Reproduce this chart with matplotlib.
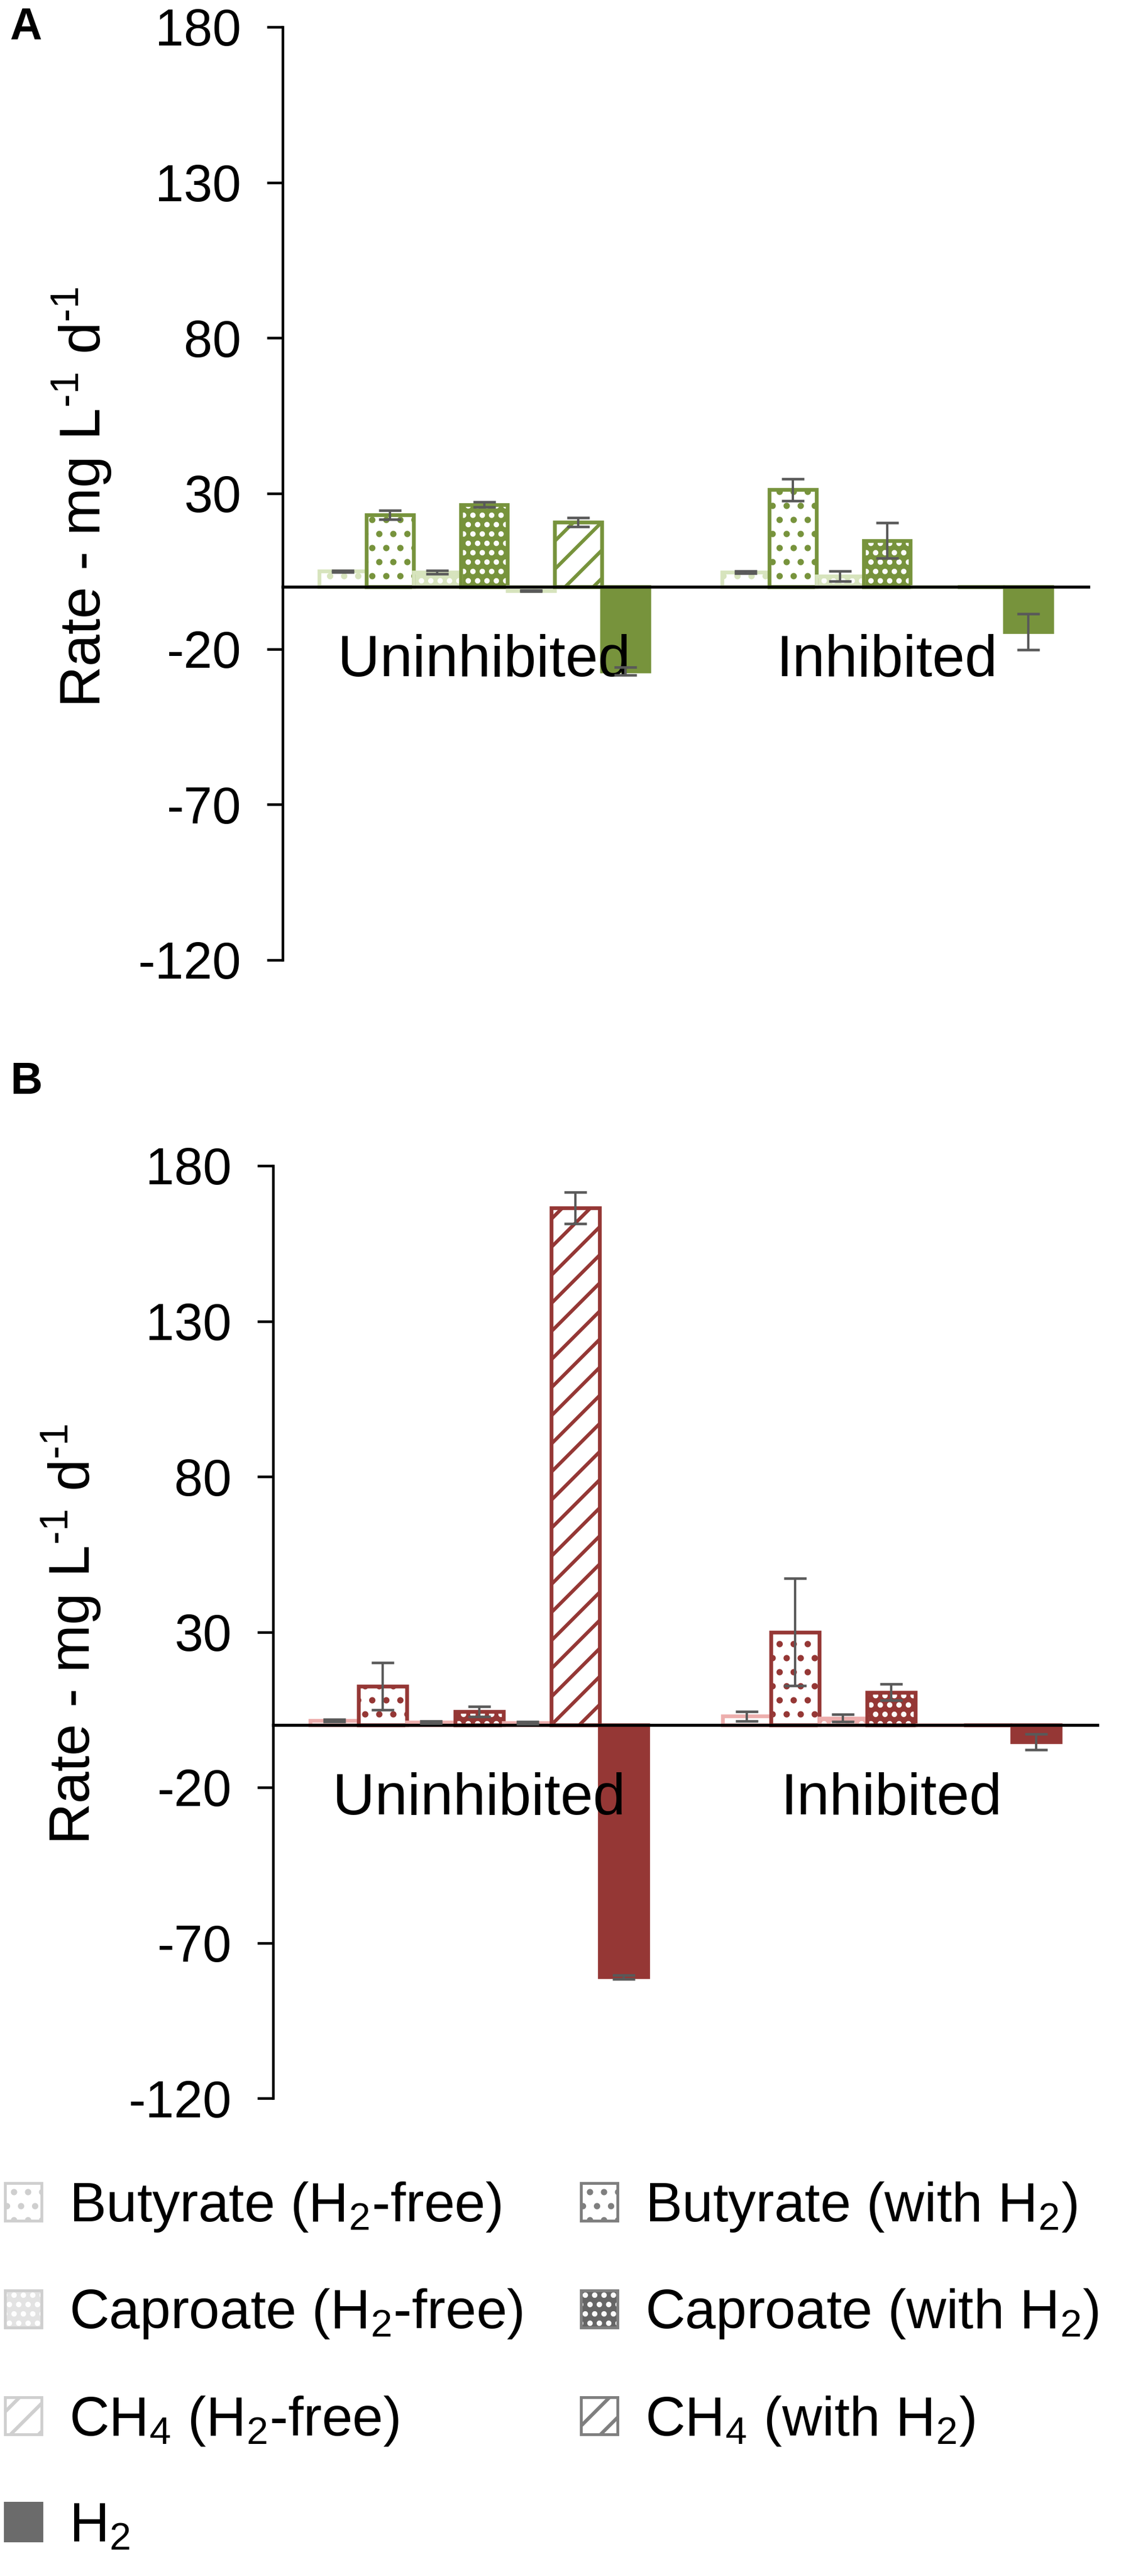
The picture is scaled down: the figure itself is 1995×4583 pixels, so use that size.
import numpy as np
import matplotlib
matplotlib.use("Agg")
import matplotlib.pyplot as plt
from matplotlib.patches import Patch

plt.rcParams['font.family'] = ['Liberation Sans', 'DejaVu Sans']
plt.rcParams['mathtext.fontset'] = 'custom'
plt.rcParams['mathtext.rm'] = 'Liberation Sans'
plt.rcParams['mathtext.it'] = 'Liberation Sans:italic'
plt.rcParams['mathtext.bf'] = 'Liberation Sans:bold'
plt.rcParams['axes.unicode_minus'] = False
plt.rcParams['hatch.linewidth'] = 1.5

groups = ["Uninhibited", "Inhibited"]
series = ["Butyrate (H$_2$-free)", "Butyrate (with H$_2$)",
          "Caproate (H$_2$-free)", "Caproate (with H$_2$)",
          "CH$_4$ (H$_2$-free)", "CH$_4$ (with H$_2$)", "H$_2$"]
yticks = [-120, -70, -20, 30, 80, 130, 180]

# one row per series, columns = Uninhibited, Inhibited
rate_a = [[5.0, 4.7], [23.1, 31.2], [4.7, 3.4], [26.4, 14.9],
          [-1.2, 0.0], [20.8, 0.0], [-27.1, -14.4]]
err_a = [[0.3, 0.3], [1.4, 3.5], [0.6, 1.6], [0.8, 5.7],
         [0.2, np.nan], [1.5, np.nan], [1.3, 5.8]]
rate_b = [[1.5, 2.9], [12.6, 30.0], [1.0, 2.3], [4.4, 10.6],
          [0.8, 0.0], [166.4, 0.0], [-81.0, -5.3]]
err_b = [[0.3, 1.5], [7.6, 17.2], [0.3, 1.2], [1.6, 2.6],
         [0.3, np.nan], [5.1, np.nan], [0.6, 2.5]]

W, H, DPI = 1995, 4583, 300
fig = plt.figure(figsize=(W / DPI, H / DPI), dpi=DPI)


def fx(px):
    return px / W


def fy(px):
    return 1 - px / H


def styles(dark, light):
    # face, hatch, hatch colour, edge
    return [("white", "..", light, light),
            ("white", "..", dark, dark),
            (light, "...", "white", light),
            (dark, "...", "white", dark),
            ("white", "//", light, light),
            ("white", "//", dark, dark),
            (dark, None, dark, dark)]


def draw_panel(ax, rates, errs, dark, light):
    x = np.arange(len(groups))
    w = 0.117
    n = len(series)
    for i, (face, hatch, hcol, edge) in enumerate(styles(dark, light)):
        xs = x + (i - (n - 1) / 2) * w
        ax.bar(xs, rates[i], w, color=face, edgecolor=hcol,
               hatch=hatch, linewidth=0, zorder=1)
        ax.bar(xs, rates[i], w, fill=False, edgecolor=edge,
               linewidth=1.6, zorder=1.2)
        ax.errorbar(xs, rates[i], yerr=errs[i], fmt='none', ecolor='#595959',
                    elinewidth=1.0, capsize=4.8, capthick=1.1, zorder=4)
    ax.set_xlim(-0.5, 1.5)
    ax.set_ylim(-120, 180)
    ax.set_yticks(yticks)
    ax.set_xticks(x, groups)
    for s in ['top', 'right']:
        ax.spines[s].set_visible(False)
    ax.spines['bottom'].set_position(('data', 0))
    ax.spines['bottom'].set_linewidth(1.3)
    ax.spines['left'].set_linewidth(1.1)
    ax.tick_params(axis='x', length=0, pad=20, labelsize=25)
    ax.tick_params(axis='y', length=6.7, width=1.1, pad=11, labelsize=22)


ax_a = fig.add_axes([fx(503), fy(1708), (1937 - 503) / W, (1708 - 48) / H])
draw_panel(ax_a, rate_a, err_a, '#77933C', '#D7E4BD')
ax_b = fig.add_axes([fx(486), fy(3733), (1953 - 486) / W, (3733 - 2074) / H])
draw_panel(ax_b, rate_b, err_b, '#953735', '#EDAEAD')

ylab = "Rate - mg L$^{\u20101}$ d$^{\u20101}$"
fig.text(fx(179), fy(885), ylab, rotation=90, rotation_mode='anchor',
         ha='center', va='baseline', fontsize=24.5)
fig.text(fx(160), fy(2908), ylab, rotation=90, rotation_mode='anchor',
         ha='center', va='baseline', fontsize=24.5)
fig.text(fx(17), fy(70), "A", fontsize=19, fontweight='bold', va='baseline')
fig.text(fx(19), fy(1946), "B", fontsize=19, fontweight='bold', va='baseline')

# legend in grey, like the shared legend of the figure
g_light, g_dark, g_solid = '#CFCFCF', '#7F7F7F', '#6B6B6B'
leg_styles = [("white", "..", g_light, g_light),
              ("white", "..", g_dark, g_dark),
              ('#E3E3E3', "...", "white", g_light),
              ('#666666', "...", "white", g_dark),
              ("white", "//", g_light, g_light),
              ("white", "//", g_dark, g_dark),
              (g_solid, None, g_solid, g_solid)]
handles = []
for face, hatch, hcol, edge in leg_styles:
    b = Patch(facecolor=face, edgecolor=hcol, hatch=hatch, linewidth=0)
    o = Patch(fill=False, edgecolor=edge, linewidth=1.2)
    handles.append((b, o))
order = [0, 2, 4, 6, 1, 3, 5]
fig.legend([handles[i] for i in order], [series[i] for i in order],
           loc='upper left', bbox_to_anchor=(fx(9), fy(3879)), ncol=2,
           frameon=False, fontsize=23.6, handlelength=0.66, handleheight=0.66,
           handletextpad=0.5, columnspacing=1.05, labelspacing=0.97,
           borderpad=0, borderaxespad=0)

fig.savefig("out.png", dpi=DPI)
